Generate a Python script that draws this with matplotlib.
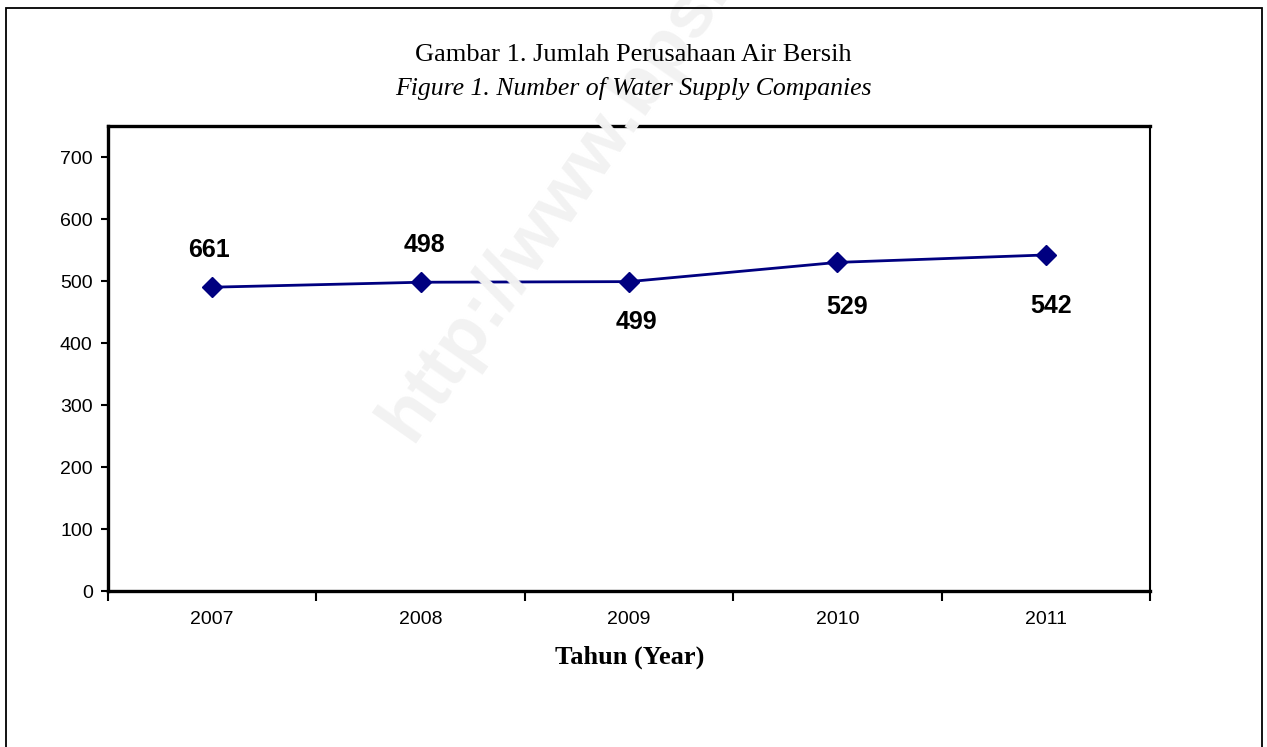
import matplotlib
matplotlib.use('Agg')
import matplotlib.pyplot as plt
from matplotlib.patches import Rectangle

# data
years = ['2007', '2008', '2009', '2010', '2011']
jumlah = [490, 498, 499, 530, 542]              # plotted point heights
label_txt = ['661', '498', '499', '529', '542']  # labels as printed on the chart
y_ticks = [0, 100, 200, 300, 400, 500, 600, 700]

NAVY = '#000080'
SERIF = 'Liberation Serif'
SANS = 'Liberation Sans'

# label offsets (points) relative to each marker
label_off = [(-2, 27), (3, 27), (5, -29), (7, -32), (4, -37)]

fig = plt.figure(figsize=(12.67, 7.47), dpi=100, facecolor='white')

# outer frame (bottom edge runs off the image)
fig.add_artist(Rectangle((6 / 1267, -0.02), 1256 / 1267, 1 - 8 / 747 + 0.02,
                         transform=fig.transFigure, fill=False,
                         edgecolor='black', lw=1.3))

# faint watermark
fig.text(395 / 1267, 1 - 432 / 747, 'http://www.bps.go.id', rotation=55,
         rotation_mode='anchor', ha='left', va='center',
         fontsize=54, fontweight='bold', color='#f2f2f2', family=SANS, zorder=0)

ax = fig.add_axes([108 / 1267, 1 - 591 / 747, 1042 / 1267, 465 / 747])
ax.patch.set_alpha(0)

x = list(range(len(years)))
ax.plot(x, jumlah, color=NAVY, lw=2, marker='D', ms=10, zorder=3)

for i, (v, t) in enumerate(zip(jumlah, label_txt)):
    ax.annotate(t, (i, v), textcoords='offset points', xytext=label_off[i],
                ha='center', va='center', fontsize=18, fontweight='bold',
                family=SANS, color='black')

ax.set_xlim(-0.5, len(years) - 0.5)
ax.set_ylim(0, 750)
ax.set_yticks(y_ticks)
ax.set_yticklabels([str(v) for v in y_ticks], family=SANS, fontsize=14)

# category labels centred, ticks on the boundaries
ax.set_xticks([i - 0.5 for i in range(len(years) + 1)])
ax.set_xticklabels([])
ax.tick_params(axis='x', direction='out', length=7, width=1.5, pad=2)
ax.tick_params(axis='y', direction='out', length=5, width=1.5, pad=6)
for i, yr in enumerate(years):
    ax.text(i, -0.061, yr, transform=ax.get_xaxis_transform(), ha='center',
            va='center', fontsize=14, family=SANS)

for side, s in ax.spines.items():
    s.set_linewidth(1.5 if side == 'right' else 2.4)
    s.set_color('black')

fig.text(0.5, 1 - 55 / 747, 'Gambar 1. Jumlah Perusahaan Air Bersih',
         ha='center', va='center', fontsize=19, family=SERIF)
fig.text(0.5, 1 - 88 / 747, 'Figure 1. Number of Water Supply Companies',
         ha='center', va='center', fontsize=18.5, family=SERIF, style='italic')
fig.text(0.497, 1 - 657 / 747, 'Tahun (Year)', ha='center', va='center',
         fontsize=19, fontweight='bold', family=SERIF)

fig.savefig('out.png', dpi=100, facecolor='white')
